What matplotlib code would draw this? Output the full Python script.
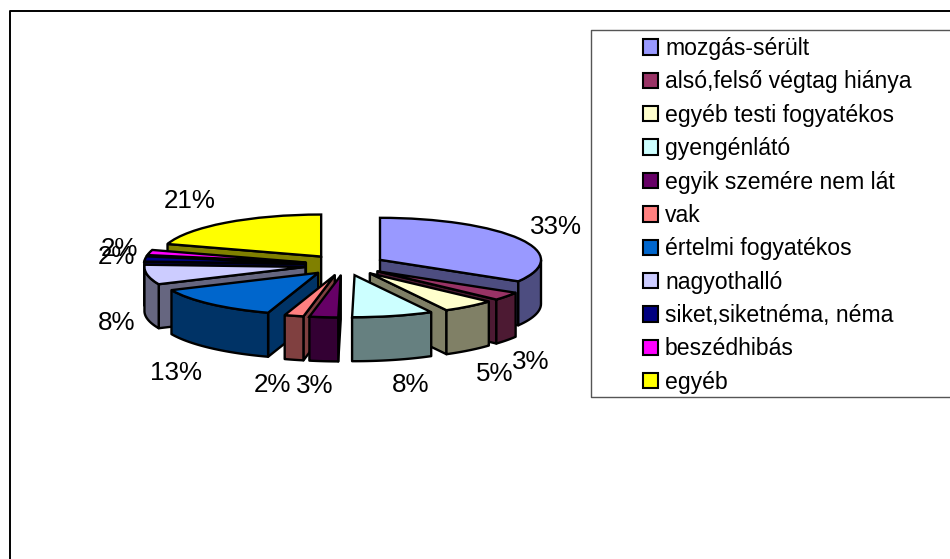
#!/usr/bin/env python3

import numpy as np
import matplotlib
matplotlib.use('Agg')
import matplotlib.pyplot as plt
from matplotlib.patches import Patch, Polygon
from matplotlib.lines import Line2D

plt.rcParams['font.family'] = ['Liberation Sans', 'DejaVu Sans']

categories = ['mozgás-sérült', 'alsó,felső végtag hiánya', 'egyéb testi fogyatékos',
              'gyengénlátó', 'egyik szemére nem lát', 'vak', 'értelmi fogyatékos',
              'nagyothalló', 'siket,siketnéma, néma', 'beszédhibás', 'egyéb']
values = [33, 3, 5, 8, 3, 2, 13, 8, 2, 2, 21]
colors = ['#9999FF', '#993366', '#FFFFCC', '#CCFFFF', '#660066', '#FF8080',
          '#0066CC', '#CCCCFF', '#000080', '#FF00FF', '#FFFF00']

W, H = 950, 559
CX, CY = 345, 265    # pie centre, pixels
RX, RY = 161, 42     # ellipse radii, pixels
DEPTH = 44 / RY      # pie thickness in data units
EXPLODE = 0.25
LW = 1.7

fig = plt.figure(figsize=(W / 100, H / 100), dpi=100)
ax = fig.add_axes([0, 0, 1, 1])

wedges, _ = ax.pie(values, colors=colors, startangle=90, counterclock=False,
                   explode=[EXPLODE] * len(values),
                   wedgeprops={'edgecolor': 'black', 'linewidth': LW})
# squash the round pie to a flat ellipse
ax.set_aspect('auto')
ax.set_xlim((0 - CX) / RX, (W - CX) / RX)
ax.set_ylim((CY - H) / RY, CY / RY)


def skew(deg):
    # the 3d view turns the front of the pie a bit to the left
    cw = (90 - deg) % 360
    return deg - np.interp(cw, [0, 119, 148, 176, 200, 241, 270, 284, 360],
                           [0, 2, 4, 4.5, 3.5, 4.5, 3, 3, 0])


for w in wedges:
    t1, t2 = skew(w.theta1), skew(w.theta2)
    m = np.radians(skew((w.theta1 + w.theta2) / 2))
    w.set_theta1(t1)
    w.set_theta2(t2)
    w.set_center((EXPLODE * np.cos(m), EXPLODE * np.sin(m)))


def darker(c):
    return tuple(v * 0.5 for v in matplotlib.colors.to_rgb(c))


def point(w, deg):
    a = np.radians(deg)
    return np.array([w.center[0] + w.r * np.cos(a), w.center[1] + w.r * np.sin(a)])


def add_wall(pts, color, z):
    pts = np.array(pts)
    low = pts[::-1] - [0, DEPTH]
    ax.add_patch(Polygon(np.vstack([pts, low]), closed=True, facecolor=color,
                         edgecolor='black', linewidth=LW, joinstyle='round', zorder=z))


# back slices first, front slices on top of them
mids = [(w.theta1 + w.theta2) / 2 for w in wedges]
order = np.argsort([-np.sin(np.radians(m)) for m in mids])
for n, i in enumerate(order):
    w = wedges[i]
    z = 3 + n
    wall = darker(colors[i])
    apex = np.array(w.center)
    if np.cos(np.radians(w.theta1)) > 0:
        add_wall([apex, point(w, w.theta1)], wall, z)
    if np.cos(np.radians(w.theta2)) < 0:
        add_wall([apex, point(w, w.theta2)], wall, z)
    # rim of the slice, only the part facing the viewer
    degs = np.linspace(w.theta1, w.theta2, 60)
    degs = degs[np.sin(np.radians(degs)) < 0]
    if len(degs) > 1:
        add_wall([point(w, d) for d in degs], wall, z)
    w.set_zorder(z + 0.5)

# percent labels, pixel positions
label_pos = [(556, 227), (531, 362), (495, 374), (411, 385), (315, 386), (272, 385),
             (176, 373), (117, 323), (116, 257), (119, 249), (190, 201)]
for v, (x, y) in zip(values, label_pos):
    fig.text(x / W, 1 - y / H, '%d%%' % v, fontsize=18.7, ha='center', va='center', zorder=30)


# chart frame and legend box, open to the right
def frame(xs, ys, color, lw):
    fig.add_artist(Line2D([x / W for x in xs], [1 - y / H for y in ys],
                          color=color, linewidth=lw, transform=fig.transFigure))


frame([950, 9.5, 9.5], [11, 11, 559], 'black', 1.4)
frame([950, 590.5, 590.5, 950], [29.5, 29.5, 397, 397], '#555555', 1)

handles = [Patch(facecolor=c, edgecolor='black', linewidth=1.5) for c in colors]
fig.legend(handles, categories, loc='upper left', bbox_to_anchor=(635 / W, 1 - 29 / H),
           frameon=False, fontsize=16.6, handlelength=0.65, handleheight=0.65,
           handletextpad=0.3, labelspacing=0.45, borderpad=0.35, borderaxespad=0)

plt.savefig('out.png', dpi=100)
